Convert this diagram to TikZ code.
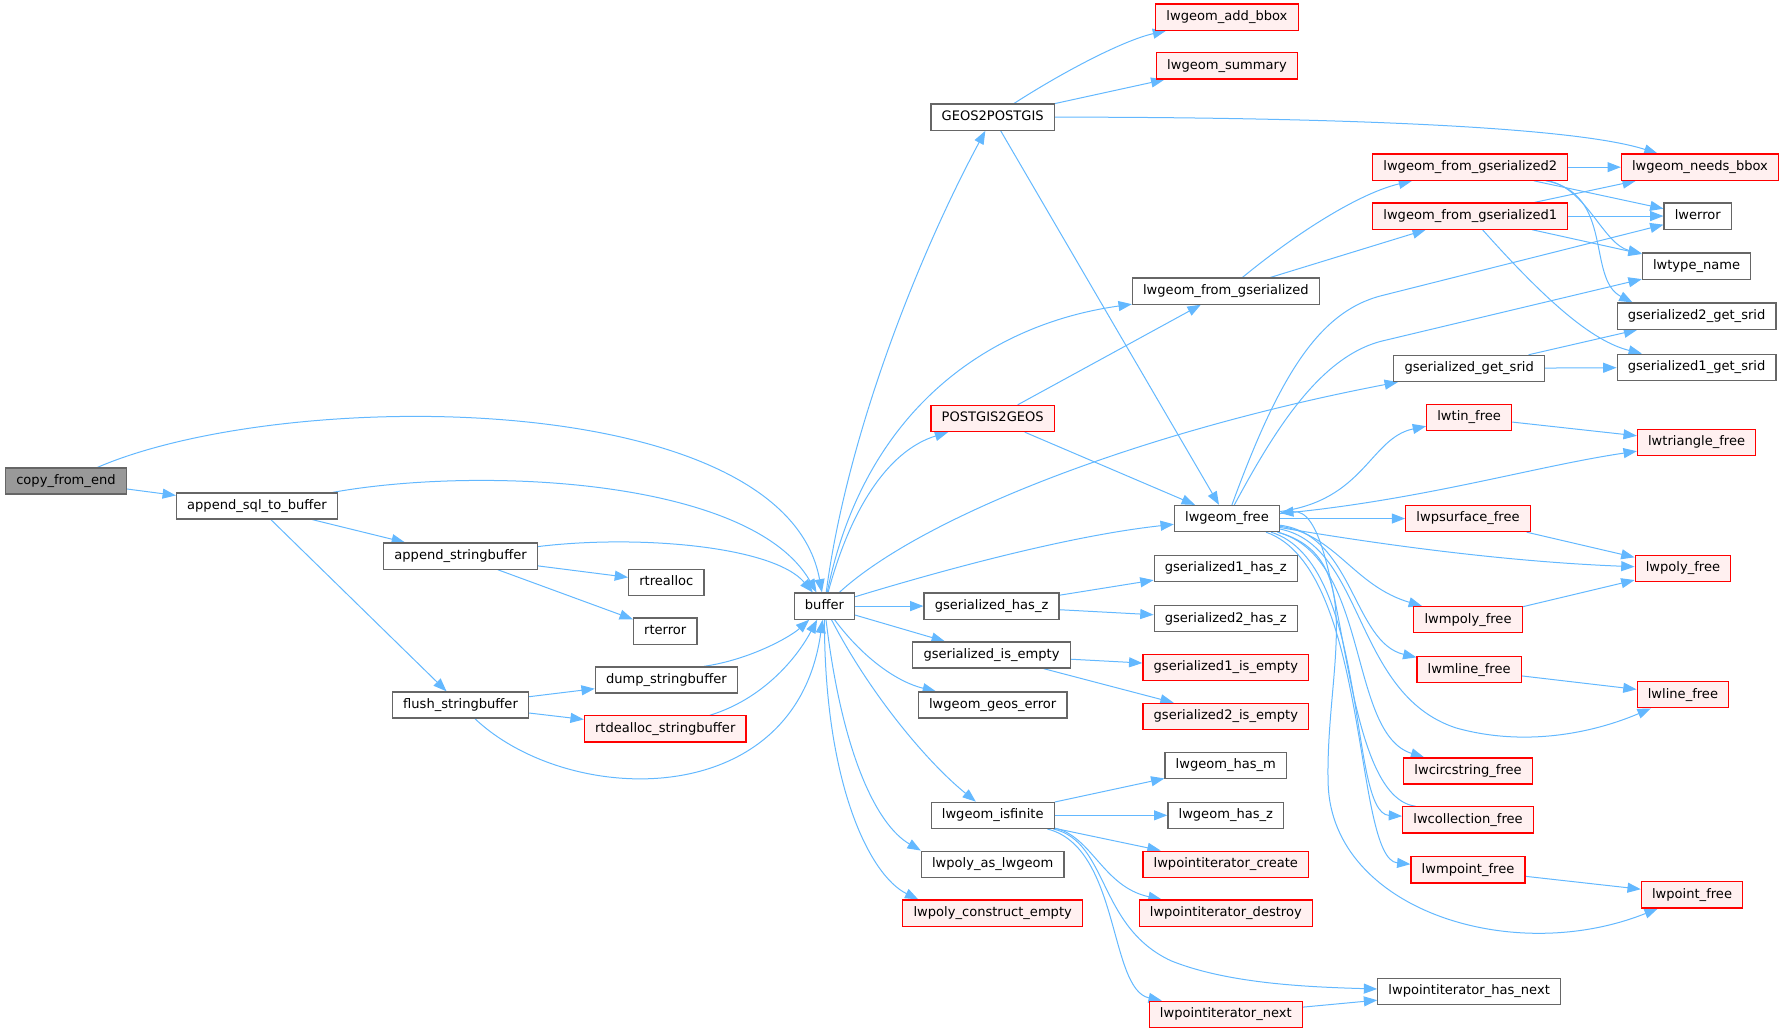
\documentclass[tikz,border=0pt]{standalone}
\usepackage{fontspec}
\setmainfont{DejaVu Sans}
\usetikzlibrary{arrows.meta,backgrounds}
\definecolor{edgeblue}{HTML}{63B8FF}
\definecolor{boxgray}{HTML}{666666}
\definecolor{rootfill}{HTML}{999999}
\definecolor{redfill}{HTML}{FFF0F0}
\definecolor{boxred}{HTML}{FF0000}
\tikzset{
  nb/.style={rectangle, draw=boxgray, fill=white, line width=0.9pt,
    font=\fontsize{9.8}{11}\selectfont, inner xsep=8pt, inner ysep=0pt,
    minimum height=19.6pt, text height=7.3pt, text depth=2.2pt},
  nr/.style={nb, draw=boxred, fill=redfill},
  nroot/.style={nb, fill=rootfill},
  e/.style={draw=edgeblue, line width=0.75pt, -{Triangle[length=10pt,width=7.5pt]}}
}
\begin{document}
\begin{tikzpicture}[x=0.8528pt,y=-0.8528pt]
\useasboundingbox (0,0) rectangle (1568,910);
% nodes
\node[nroot] (copy) at (58,423) {copy\_from\_end};
\node[nb] (asql) at (226,445) {append\_sql\_to\_buffer};
\node[nb] (asb) at (405,489) {append\_stringbuffer};
\node[nb] (rtrealloc) at (586,512) {rtrealloc};
\node[nb] (rterror) at (585,555) {rterror};
\node[nb] (flush) at (405,620) {flush\_stringbuffer};
\node[nb] (dump) at (586,598) {dump\_stringbuffer};
\node[nr] (rtdealloc) at (585,641) {rtdealloc\_stringbuffer};
\node[nb] (buffer) at (725,533) {buffer};
\node[nb] (geos2pg) at (873,103) {GEOS2POSTGIS};
\node[nr] (addbbox) at (1079,15) {lwgeom\_add\_bbox};
\node[nr] (summary) at (1079,58) {lwgeom\_summary};
\node[nr] (pg2geos) at (873,368) {POSTGIS2GEOS};
\node[nb] (lfg) at (1078,256) {lwgeom\_from\_gserialized};
\node[nr] (lfg2) at (1293,147) {lwgeom\_from\_gserialized2};
\node[nr] (lfg1) at (1293,190) {lwgeom\_from\_gserialized1};
\node[nr] (needsbbox) at (1495,147) {lwgeom\_needs\_bbox};
\node[nb] (lwerror) at (1493,190) {lwerror};
\node[nb] (lwtype) at (1492,234) {lwtype\_name};
\node[nb] (gs2srid) at (1492,278) {gserialized2\_get\_srid};
\node[nb] (gs1srid) at (1492,323) {gserialized1\_get\_srid};
\node[nb] (gssrid) at (1292,324) {gserialized\_get\_srid};
\node[nr] (lwtin) at (1292,367) {lwtin\_free};
\node[nr] (lwtri) at (1492,389) {lwtriangle\_free};
\node[nb] (lwfree) at (1079,456) {lwgeom\_free};
\node[nr] (lwpsurf) at (1291,456) {lwpsurface\_free};
\node[nr] (lwpoly) at (1480,500) {lwpoly\_free};
\node[nr] (lwmpoly) at (1291,545) {lwmpoly\_free};
\node[nr] (lwmline) at (1292,589) {lwmline\_free};
\node[nr] (lwline) at (1480,611) {lwline\_free};
\node[nr] (lwcirc) at (1291,678) {lwcircstring\_free};
\node[nr] (lwcoll) at (1291,721) {lwcollection\_free};
\node[nr] (lwmpoint) at (1291,765) {lwmpoint\_free};
\node[nr] (lwpoint) at (1488,787) {lwpoint\_free};
\node[nb] (gs1hz) at (1078,500) {gserialized1\_has\_z};
\node[nb] (gs2hz) at (1078,544) {gserialized2\_has\_z};
\node[nr] (gs1ie) at (1078,587) {gserialized1\_is\_empty};
\node[nr] (gs2ie) at (1078,630) {gserialized2\_is\_empty};
\node[nb] (gshz) at (872,533) {gserialized\_has\_z};
\node[nb] (gsie) at (872,576) {gserialized\_is\_empty};
\node[nb] (geoserr) at (873,620) {lwgeom\_geos\_error};
\node[nb] (isfinite) at (873,717) {lwgeom\_isfinite};
\node[nb] (polyas) at (873,760) {lwpoly\_as\_lwgeom};
\node[nr] (polyce) at (873,803) {lwpoly\_construct\_empty};
\node[nb] (hasm) at (1078,673) {lwgeom\_has\_m};
\node[nb] (hasz) at (1078,717) {lwgeom\_has\_z};
\node[nr] (picreate) at (1078,760) {lwpointiterator\_create};
\node[nr] (pidestroy) at (1078,803) {lwpointiterator\_destroy};
\node[nb] (pihasnext) at (1292,872) {lwpointiterator\_has\_next};
\node[nr] (pinext) at (1078,892) {lwpointiterator\_next};
% edges
\begin{scope}[on background layer]
\draw[e] (copy) .. controls (250,340) and (690,340) .. (buffer);
\draw[e] (copy) -- (asql);
\draw[e] (asql) .. controls (420,410) and (660,420) .. (buffer);
\draw[e] (asql) -- (asb);
\draw[e] (asql) -- (flush);
\draw[e] (asb) .. controls (560,470) and (680,480) .. (buffer);
\draw[e] (asb) -- (rtrealloc);
\draw[e] (asb) -- (rterror);
\draw[e] (flush) -- (dump);
\draw[e] (flush) -- (rtdealloc);
\draw[e] (flush) .. controls (500,710) and (700,715) .. (buffer);
\draw[e] (dump.20) .. controls (660,580) and (695,560) .. (buffer);
\draw[e] (rtdealloc) .. controls (670,615) and (700,580) .. (buffer);
% buffer out
\draw[e] (buffer) .. controls (745,380) and (810,220) .. (geos2pg);
\draw[e] (buffer) .. controls (760,360) and (870,285) .. (lfg);
\draw[e] (buffer) .. controls (750,440) and (785,395) .. (pg2geos);
\draw[e] (buffer) .. controls (810,455) and (1000,380) .. (gssrid);
\draw[e] (buffer) .. controls (850,495) and (950,470) .. (lwfree);
\draw[e] (buffer) -- (gshz);
\draw[e] (buffer) -- (gsie);
\draw[e] (buffer) .. controls (760,580) and (790,600) .. (geoserr);
\draw[e] (buffer) .. controls (765,610) and (815,670) .. (isfinite);
\draw[e] (buffer) .. controls (740,660) and (770,725) .. (polyas.north west);
\draw[e] (buffer) .. controls (725,690) and (765,770) .. ([xshift=12pt]polyce.north west);
% GEOS2POSTGIS
\draw[e] (geos2pg) .. controls (940,60) and (990,35) .. (addbbox);
\draw[e] (geos2pg) -- (summary);
\draw[e] (geos2pg) .. controls (1150,103) and (1380,110) .. (needsbbox);
\draw[e] (geos2pg) -- (lwfree);
% POSTGIS2GEOS
\draw[e] (pg2geos) -- (lfg);
\draw[e] (pg2geos) -- (lwfree);
% lwgeom_from_gserialized
\draw[e] (lfg) .. controls (1140,205) and (1195,170) .. (lfg2);
\draw[e] (lfg) -- (lfg1);
\draw[e] (lfg2) -- (needsbbox);
\draw[e] (lfg2) -- (lwerror);
\draw[e] (lfg2) .. controls (1395,165) and (1410,215) .. (lwtype);
\draw[e] (lfg2) .. controls (1420,170) and (1395,245) .. ([xshift=12pt]gs2srid.north west);
\draw[e] (lfg1) -- (needsbbox);
\draw[e] (lfg1) -- (lwerror);
\draw[e] (lfg1) -- (lwtype);
\draw[e] (lfg1) .. controls (1360,265) and (1400,300) .. (gs1srid);
\draw[e] (gssrid) -- (gs2srid);
\draw[e] (gssrid) -- (gs1srid);
% lwgeom_free
\draw[e] (lwfree) .. controls (1125,330) and (1160,274) .. (1215,260) -- (lwerror);
\draw[e] (lwfree) .. controls (1120,380) and (1160,314) .. (1215,300) -- (lwtype);
\draw[e] (lwfree) .. controls (1200,440) and (1205,385) .. (lwtin);
\draw[e] (lwfree) .. controls (1250,440) and (1350,410) .. (lwtri);
\draw[e] (lwfree) -- (lwpsurf);
\draw[e] (lwfree) .. controls (1250,485) and (1350,495) .. (lwpoly);
\draw[e] (lwfree) .. controls (1175,470) and (1190,515) .. (lwmpoly);
\draw[e] (lwfree) .. controls (1190,470) and (1190,565) .. (lwmline);
\draw[e] (lwfree) .. controls (1200,480) and (1190,610) .. (1280,640) .. controls (1340,657) and (1400,645) .. (lwline);
\draw[e] (lwfree) .. controls (1205,490) and (1185,645) .. (lwcirc);
\draw[e] (lwfree) .. controls (1205,495) and (1185,715) .. (lwcoll);
\draw[e] ([xshift=10pt]lwcoll.north west) .. controls (1175,700) and (1185,445) .. (lwfree);
\draw[e] (lwfree) .. controls (1205,500) and (1190,755) .. (lwmpoint);
\draw[e] (lwfree) .. controls (1205,490) and (1165,590) .. (1168,690) .. controls (1172,800) and (1330,850) .. (lwpoint);
\draw[e] (lwtin) -- (lwtri);
\draw[e] (lwpsurf) -- (lwpoly);
\draw[e] (lwmpoly) -- (lwpoly);
\draw[e] (lwmline) -- (lwline);
\draw[e] (lwmpoint) -- (lwpoint);
% has_z / is_empty
\draw[e] (gshz) -- (gs1hz);
\draw[e] (gshz) -- (gs2hz);
\draw[e] (gsie) -- (gs1ie);
\draw[e] (gsie) -- (gs2ie);
% isfinite
\draw[e] (isfinite) -- (hasm);
\draw[e] (isfinite) -- (hasz);
\draw[e] (isfinite) -- (picreate);
\draw[e] (isfinite) .. controls (960,735) and (970,780) .. (pidestroy);
\draw[e] (isfinite) .. controls (975,740) and (965,815) .. (1030,845) .. controls (1080,865) and (1150,868) .. (pihasnext);
\draw[e] (isfinite) .. controls (985,745) and (975,870) .. (pinext);
\draw[e] (pinext) -- (pihasnext);
\end{scope}
\end{tikzpicture}
\end{document}
